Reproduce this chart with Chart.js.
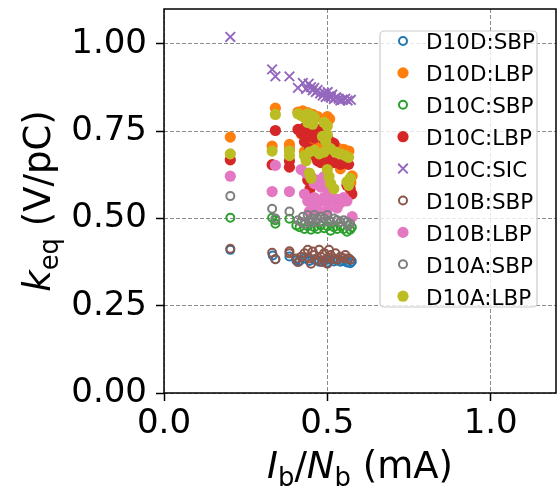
<!DOCTYPE html>
<html>
<head>
<meta charset="utf-8">
<script src="https://cdn.jsdelivr.net/npm/chart.js@4/dist/chart.umd.min.js"></script>
<style>
  body { margin: 0; background: #fff; }
  #wrap { width: 558px; height: 490px; }
</style>
</head>
<body>
<div id="wrap"><canvas id="keq" width="558" height="490"></canvas></div>
<script>
// series names, in legend order
const seriesNames = ['D10D:SBP', 'D10D:LBP', 'D10C:SBP', 'D10C:LBP', 'D10C:SIC',
                     'D10B:SBP', 'D10B:LBP', 'D10A:SBP', 'D10A:LBP'];
const xTicks = [0.0, 0.5, 1.0];
const yTicks = [0.00, 0.25, 0.50, 0.75, 1.00];

// [Ib/Nb (mA), keq (V/pC)]
const d10dSbp = [[0.203,0.410],[0.333,0.394],[0.341,0.383],[0.384,0.391],[0.405,0.380],[0.415,0.378],
  [0.43,0.385],[0.445,0.378],[0.46,0.382],[0.475,0.376],[0.49,0.380],[0.50,0.374],[0.51,0.381],
  [0.52,0.377],[0.53,0.380],[0.54,0.376],[0.55,0.378],[0.56,0.374],[0.57,0.372],[0.575,0.377]];
const d10dLbp = [[0.203,0.733],[0.341,0.816],[0.331,0.707],[0.384,0.712],[0.384,0.700],
  [0.41,0.805],[0.425,0.808],[0.44,0.803],[0.455,0.798],[0.47,0.792],[0.50,0.792],[0.507,0.785],
  [0.42,0.742],[0.435,0.735],[0.45,0.722],[0.47,0.712],[0.49,0.703],[0.51,0.697],[0.53,0.703],
  [0.55,0.698],[0.566,0.693],[0.43,0.692],[0.46,0.682],[0.50,0.662],[0.54,0.642],[0.576,0.622],[0.572,0.603]];
const d10cSbp = [[0.203,0.502],[0.331,0.502],[0.341,0.485],[0.341,0.495],[0.384,0.499],
  [0.405,0.480],[0.415,0.475],[0.43,0.470],[0.44,0.478],[0.45,0.468],[0.46,0.475],[0.47,0.470],
  [0.48,0.480],[0.49,0.472],[0.50,0.478],[0.51,0.465],[0.52,0.475],[0.53,0.470],[0.54,0.478],
  [0.55,0.470],[0.56,0.462],[0.57,0.468],[0.575,0.475]];
const d10cLbp = [[0.203,0.668],[0.341,0.752],[0.331,0.654],[0.384,0.647],[0.384,0.665],
  [0.41,0.755],[0.42,0.745],[0.43,0.760],[0.44,0.750],[0.45,0.740],[0.46,0.730],[0.47,0.755],
  [0.48,0.740],[0.49,0.725],[0.50,0.730],[0.51,0.720],[0.52,0.715],[0.43,0.720],[0.445,0.700],
  [0.46,0.680],[0.47,0.665],[0.48,0.660],[0.50,0.670],[0.52,0.660],[0.54,0.655],[0.555,0.660],
  [0.565,0.655],[0.44,0.610],[0.447,0.585],[0.45,0.560],[0.56,0.595],[0.57,0.585],[0.575,0.570],[0.50,0.650]];
const d10cSic = [[0.203,1.020],[0.331,0.927],[0.341,0.907],[0.384,0.907],[0.41,0.874],[0.425,0.888],
  [0.435,0.871],[0.443,0.886],[0.45,0.876],[0.455,0.867],[0.46,0.874],[0.465,0.862],[0.47,0.868],
  [0.478,0.858],[0.486,0.852],[0.49,0.860],[0.495,0.848],[0.501,0.862],[0.505,0.850],[0.511,0.847],
  [0.515,0.855],[0.52,0.842],[0.527,0.847],[0.535,0.843],[0.54,0.838],[0.547,0.840],[0.555,0.843],
  [0.562,0.838],[0.572,0.840]];
const d10bSbp = [[0.203,0.413],[0.331,0.402],[0.341,0.383],[0.384,0.406],[0.384,0.400],
  [0.405,0.385],[0.41,0.375],[0.42,0.390],[0.43,0.400],[0.44,0.410],[0.445,0.385],[0.45,0.370],
  [0.455,0.405],[0.46,0.395],[0.47,0.380],[0.475,0.410],[0.48,0.390],[0.485,0.375],[0.49,0.400],
  [0.50,0.385],[0.50,0.370],[0.505,0.410],[0.51,0.395],[0.52,0.385],[0.525,0.400],[0.53,0.382],
  [0.54,0.390],[0.55,0.386],[0.555,0.395],[0.565,0.386],[0.57,0.382]];
const d10bLbp = [[0.203,0.621],[0.341,0.652],[0.331,0.577],[0.384,0.577],
  [0.42,0.640],[0.435,0.630],[0.45,0.620],[0.46,0.600],[0.47,0.610],[0.48,0.590],[0.49,0.620],
  [0.50,0.600],[0.505,0.575],[0.43,0.570],[0.44,0.550],[0.45,0.545],[0.46,0.560],[0.47,0.545],
  [0.48,0.550],[0.49,0.560],[0.50,0.550],[0.51,0.565],[0.52,0.550],[0.53,0.555],[0.54,0.545],
  [0.55,0.560],[0.56,0.550],[0.445,0.520],[0.47,0.525],[0.50,0.525],[0.53,0.530],[0.576,0.505]];
const d10aSbp = [[0.203,0.564],[0.331,0.528],[0.341,0.500],[0.384,0.520],
  [0.41,0.495],[0.42,0.490],[0.425,0.505],[0.43,0.485],[0.44,0.510],[0.445,0.495],[0.45,0.488],
  [0.455,0.500],[0.46,0.510],[0.465,0.490],[0.47,0.500],[0.48,0.505],[0.485,0.490],[0.49,0.500],
  [0.50,0.510],[0.505,0.495],[0.51,0.490],[0.52,0.500],[0.53,0.495],[0.54,0.490],[0.55,0.495],
  [0.56,0.490],[0.565,0.480],[0.57,0.485]];
const d10aLbp = [[0.203,0.685],[0.341,0.798],[0.331,0.693],[0.384,0.693],[0.384,0.680],
  [0.41,0.800],[0.42,0.795],[0.43,0.790],[0.44,0.800],[0.45,0.795],[0.46,0.790],[0.44,0.775],
  [0.455,0.770],[0.49,0.775],[0.50,0.765],[0.485,0.735],[0.495,0.720],[0.50,0.740],[0.43,0.680],
  [0.445,0.690],[0.46,0.695],[0.475,0.685],[0.49,0.690],[0.51,0.700],[0.525,0.690],[0.54,0.685],
  [0.555,0.680],[0.565,0.675],[0.435,0.665],[0.445,0.630],[0.45,0.615],[0.50,0.640],[0.505,0.620],
  [0.51,0.600],[0.52,0.585],[0.56,0.605],[0.57,0.615],[0.565,0.595]];

const seriesData = [d10dSbp, d10dLbp, d10cSbp, d10cLbp, d10cSic, d10bSbp, d10bLbp, d10aSbp, d10aLbp];
const colors = ['#1f77b4', '#ff7f0e', '#2ca02c', '#d62728', '#9467bd',
                '#8c564b', '#e377c2', '#7f7f7f', '#bcbd22'];
const markers = ['open', 'filled', 'open', 'filled', 'x', 'open', 'filled', 'open', 'filled'];

const FONT = "'DejaVu Sans', sans-serif";

function styleFor(kind, color) {
  if (kind === 'open') return { pointStyle: 'circle', pointRadius: 4, pointBorderWidth: 2,
    pointBorderColor: color, pointBackgroundColor: 'rgba(0,0,0,0)' };
  if (kind === 'x') return { pointStyle: 'crossRot', pointRadius: 6.8, pointBorderWidth: 1.9,
    pointBorderColor: color, pointBackgroundColor: color };
  return { pointStyle: 'circle', pointRadius: 5.6, pointBorderWidth: 0,
    pointBorderColor: color, pointBackgroundColor: color };
}

const datasets = seriesNames.map((name, i) => Object.assign({
  label: name,
  data: seriesData[i].map(p => ({ x: p[0], y: p[1] })),
  order: seriesNames.length - i,   // later series on top
  showLine: false,
  pointHoverRadius: 0
}, styleFor(markers[i], colors[i])));

function marker(ctx, ds, x, y) {
  ctx.save();
  ctx.lineWidth = ds.pointBorderWidth;
  ctx.strokeStyle = ds.pointBorderColor;
  ctx.fillStyle = ds.pointBackgroundColor;
  ctx.beginPath();
  if (ds.pointStyle === 'crossRot') {
    const r = ds.pointRadius * Math.SQRT1_2;
    ctx.moveTo(x - r, y - r); ctx.lineTo(x + r, y + r);
    ctx.moveTo(x - r, y + r); ctx.lineTo(x + r, y - r);
    ctx.stroke();
  } else {
    ctx.arc(x, y, ds.pointRadius, 0, Math.PI * 2);
    if (ds.pointBorderWidth === 0) ctx.fill(); else ctx.stroke();
  }
  ctx.restore();
}

// text made of pieces: [text, italic, subscript]
function richText(ctx, parts, cx, baseline, size) {
  const fontOf = p => (p[1] ? 'italic ' : '') + (p[2] ? size * 0.7 : size) + 'px ' + FONT;
  let total = 0;
  parts.forEach(p => { ctx.font = fontOf(p); total += ctx.measureText(p[0]).width; });
  let x = cx - total / 2;
  ctx.textAlign = 'left';
  ctx.textBaseline = 'alphabetic';
  parts.forEach(p => {
    ctx.font = fontOf(p);
    ctx.fillText(p[0], x, baseline + (p[2] ? size * 0.22 : 0));
    x += ctx.measureText(p[0]).width;
  });
}

const decorations = {
  id: 'decorations',
  afterDraw(chart) {
    const ctx = chart.ctx;
    const a = chart.chartArea;
    ctx.save();
    // frame
    ctx.strokeStyle = '#000';
    ctx.lineWidth = 1.5;
    ctx.strokeRect(a.left, a.top, a.right - a.left, a.bottom - a.top);

    // legend box
    const lx = 380, ly = 31, lw = 157, lh = 276;
    ctx.beginPath();
    ctx.roundRect(lx, ly, lw, lh, 4);
    ctx.fillStyle = 'rgba(255,255,255,0.8)';
    ctx.fill();
    ctx.strokeStyle = '#cccccc';
    ctx.lineWidth = 1.2;
    ctx.stroke();
    ctx.font = '21.5px ' + FONT;
    ctx.textAlign = 'left';
    ctx.textBaseline = 'alphabetic';
    chart.data.datasets.forEach((ds, i) => {
      const cy = 41 + i * 31.9;
      marker(ctx, ds, 403, cy);
      ctx.fillStyle = '#000';
      ctx.fillText(ds.label, 426, cy + 8.4);
    });

    // axis titles
    ctx.fillStyle = '#000';
    richText(ctx, [['I', true, false], ['b', false, true], ['/', false, false],
                   ['N', true, false], ['b', false, true], [' (mA)', false, false]],
             (a.left + a.right) / 2, 478, 37);
    ctx.save();
    ctx.translate(50, (a.top + a.bottom) / 2);
    ctx.rotate(-Math.PI / 2);
    richText(ctx, [['k', true, false], ['eq', false, true], [' (V/pC)', false, false]], 0, 0, 37);
    ctx.restore();
    ctx.restore();
  }
};

// keep the plot area fixed: no extra room for edge labels
function noEdgePadding(s) {
  s.paddingLeft = 0; s.paddingRight = 0; s.paddingTop = 0; s.paddingBottom = 0;
}

const axisStyle = {
  grid: { color: 'rgba(0,0,0,0.45)', lineWidth: 1, tickLength: 8,
          tickColor: '#000', tickWidth: 1.5, tickBorderDash: [] },
  border: { display: false, dash: [4, 2] },
};

new Chart(document.getElementById('keq'), {
  type: 'scatter',
  data: { datasets: datasets },
  plugins: [decorations],
  options: {
    responsive: false,
    animation: false,
    events: [],
    layout: { autoPadding: false, padding: { top: 9, right: 2, left: 0, bottom: 0 } },
    plugins: { legend: { display: false }, tooltip: { enabled: false } },
    scales: {
      x: Object.assign({
        type: 'linear', min: 0, max: 1.2,
        afterBuildTicks: s => { s.ticks = xTicks.map(v => ({ value: v })); },
        afterFit: s => { s.height = 97; noEdgePadding(s); },
        ticks: { font: { family: FONT, size: 34 }, color: '#000', padding: 3,
                 maxRotation: 0, callback: v => v.toFixed(1) }
      }, axisStyle),
      y: Object.assign({
        type: 'linear', min: 0, max: 1.1,
        afterBuildTicks: s => { s.ticks = yTicks.map(v => ({ value: v })); },
        afterFit: s => { s.width = 164; noEdgePadding(s); },
        ticks: { font: { family: FONT, size: 34 }, color: '#000', padding: 9,
                 callback: v => v.toFixed(2) }
      }, axisStyle)
    }
  }
});
</script>
</body>
</html>
